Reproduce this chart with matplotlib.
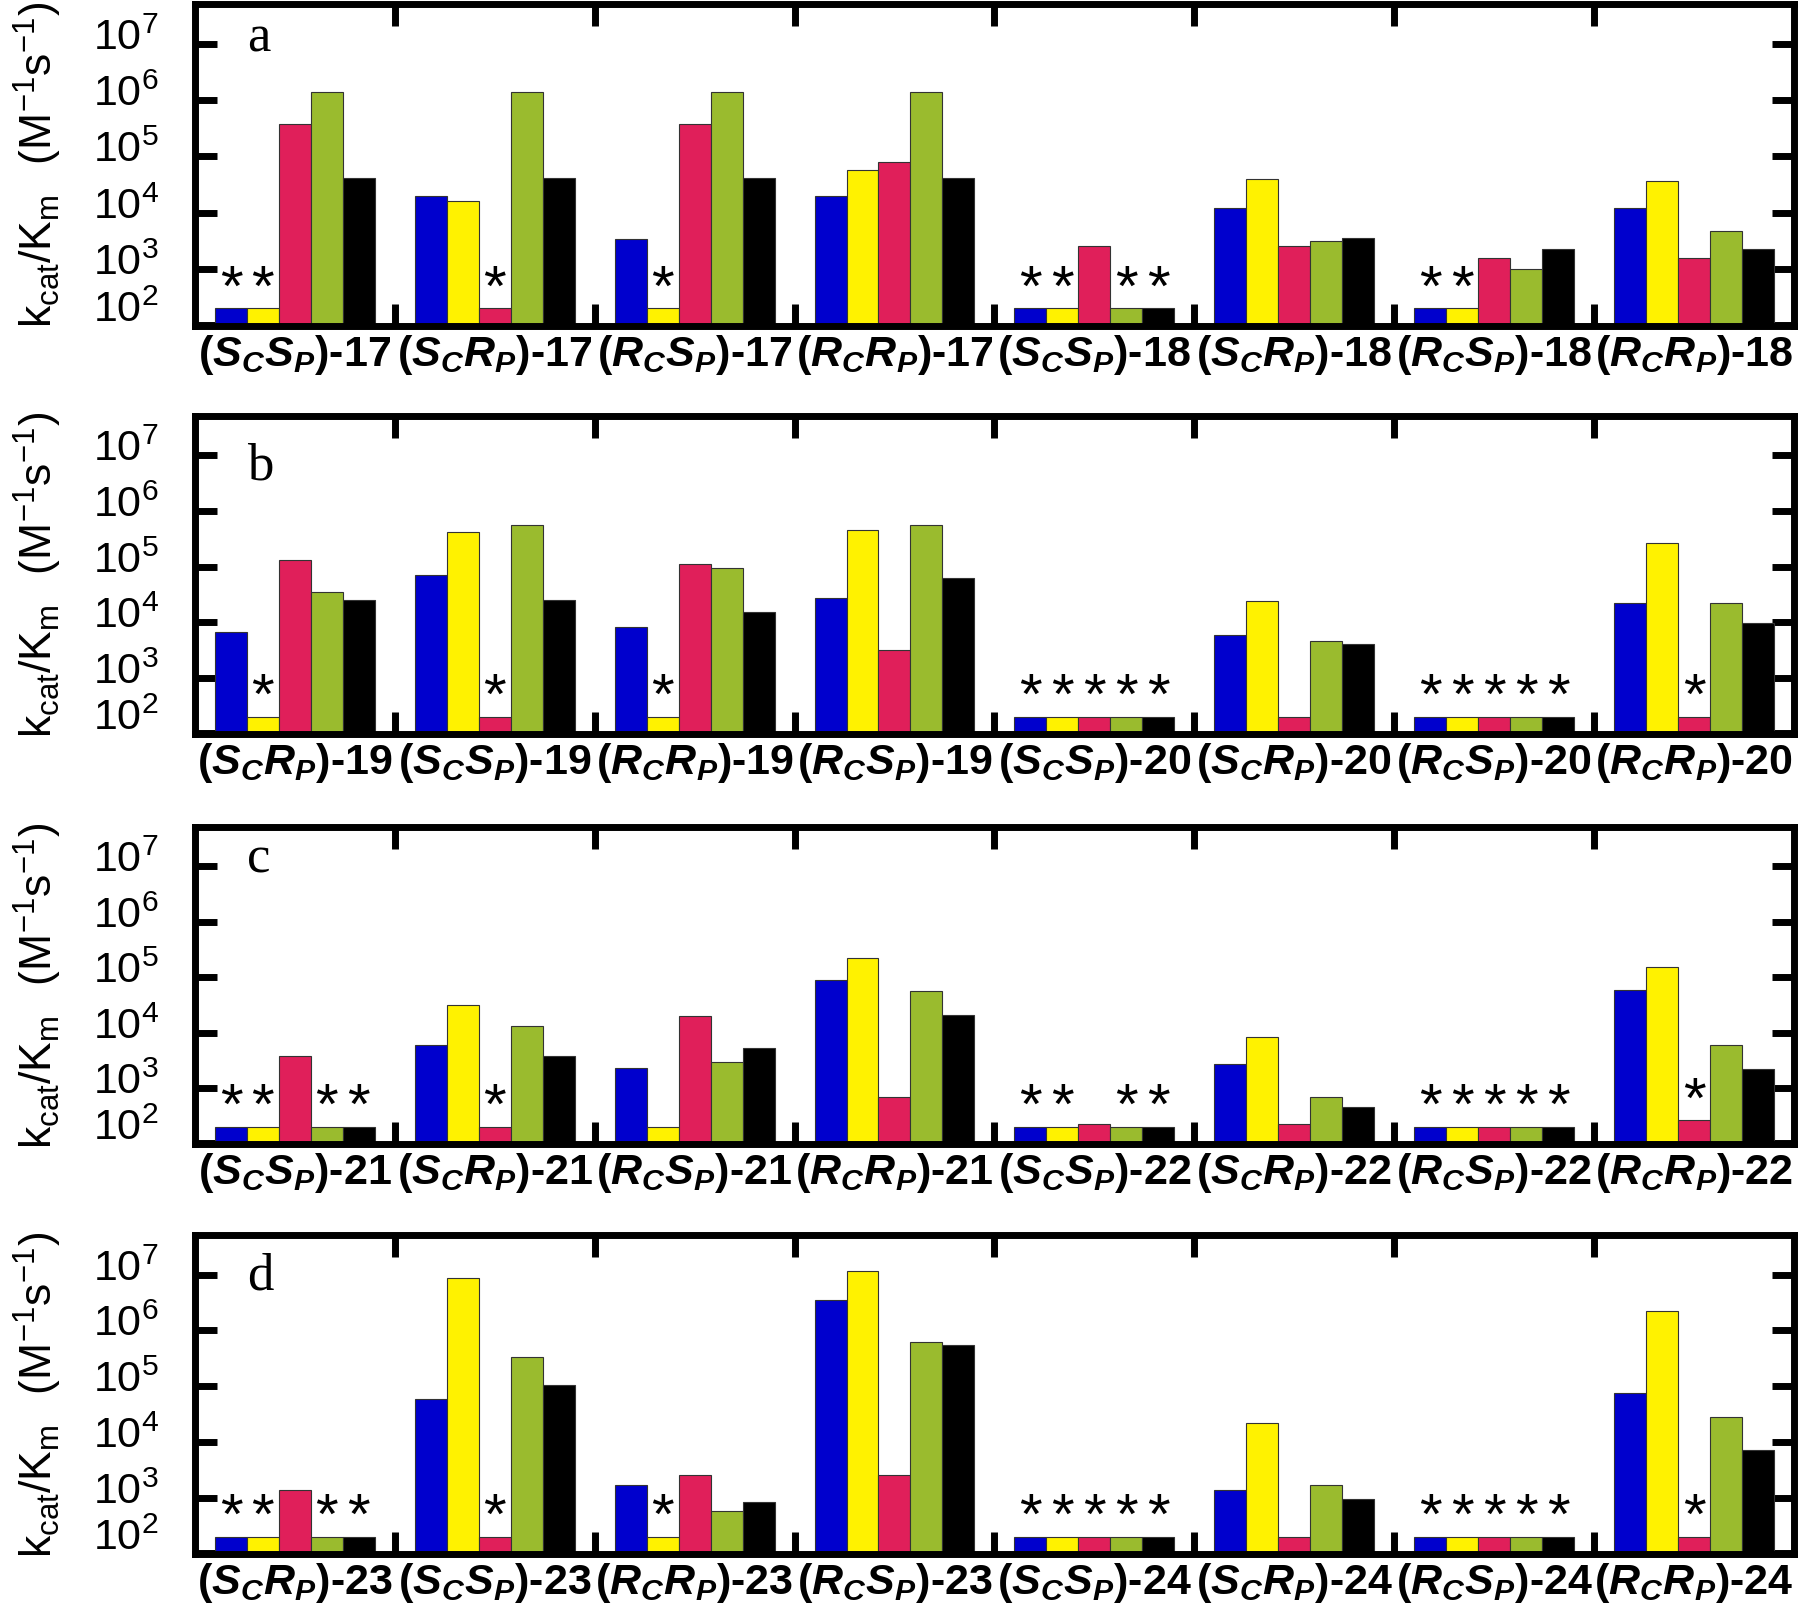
import numpy as np
import matplotlib.pyplot as plt
from matplotlib.transforms import ScaledTranslation
from matplotlib.ticker import NullLocator

# === fonts: mathtext uses the text's own font, bold-italic from the custom set ===
plt.rcParams['mathtext.fontset'] = 'custom'
plt.rcParams['mathtext.default'] = 'regular'
plt.rcParams['mathtext.bfit'] = 'Liberation Sans:italic:bold'
plt.rcParams['mathtext.rm'] = 'Liberation Sans:bold'

SANS = 'Liberation Sans'

# === data (k_cat/K_m, M^-1 s^-1), order: blue, yellow, red, green, black ===
a_config = ['SS', 'SR', 'RS', 'RR', 'SS', 'SR', 'RS', 'RR']
a_num = ['17', '17', '17', '17', '18', '18', '18', '18']
a_blue = [200, 1.95e4, 3.4e3, 1.95e4, 200, 1.23e4, 200, 1.2e4]
a_yellow = [200, 1.6e4, 200, 5.7e4, 200, 4.0e4, 200, 3.7e4]
a_red = [3.8e5, 200, 3.8e5, 7.9e4, 2.6e3, 2.6e3, 1.6e3, 1.6e3]
a_green = [1.4e6, 1.4e6, 1.4e6, 1.4e6, 200, 3.1e3, 1.0e3, 4.7e3]
a_black = [4.1e4, 4.1e4, 4.1e4, 4.1e4, 200, 3.6e3, 2.3e3, 2.3e3]
a_star = ['11000', '00100', '01000', '00000', '11011', '00000', '11000', '00000']

b_config = ['SR', 'SS', 'RR', 'RS', 'SS', 'SR', 'RS', 'RR']
b_num = ['19', '19', '19', '19', '20', '20', '20', '20']
b_blue = [6.8e3, 7.2e4, 8.3e3, 2.7e4, 200, 6.0e3, 200, 2.2e4]
b_yellow = [200, 4.2e5, 200, 4.5e5, 200, 2.4e4, 200, 2.7e5]
b_red = [1.3e5, 200, 1.1e5, 3.1e3, 200, 200, 200, 200]
b_green = [3.5e4, 5.7e5, 9.5e4, 5.7e5, 200, 4.5e3, 200, 2.2e4]
b_black = [2.5e4, 2.5e4, 1.5e4, 6.3e4, 200, 4.0e3, 200, 9.8e3]
b_star = ['01000', '00100', '01000', '00000', '11111', '00000', '11111', '00100']

c_config = ['SS', 'SR', 'RS', 'RR', 'SS', 'SR', 'RS', 'RR']
c_num = ['21', '21', '21', '21', '22', '22', '22', '22']
c_blue = [200, 6.0e3, 2.3e3, 9.0e4, 200, 2.7e3, 200, 6.0e4]
c_yellow = [200, 3.2e4, 200, 2.2e5, 200, 8.4e3, 200, 1.5e5]
c_red = [3.8e3, 200, 2.0e4, 680, 220, 220, 200, 260]
c_green = [200, 1.3e4, 2.9e3, 5.7e4, 200, 700, 200, 5.9e3]
c_black = [200, 3.8e3, 5.2e3, 2.1e4, 200, 455, 200, 2.2e3]
c_star = ['11011', '00100', '00000', '00000', '11011', '00000', '11111', '00100']

d_config = ['SR', 'SS', 'RR', 'RS', 'SS', 'SR', 'RS', 'RR']
d_num = ['23', '23', '23', '23', '24', '24', '24', '24']
d_blue = [200, 5.9e4, 1.7e3, 3.5e6, 200, 1.4e3, 200, 7.4e4]
d_yellow = [200, 8.5e6, 200, 1.15e7, 200, 2.2e4, 200, 2.2e6]
d_red = [1.4e3, 200, 2.6e3, 2.6e3, 200, 200, 200, 200]
d_green = [200, 3.3e5, 580, 6.3e5, 200, 1.7e3, 200, 2.8e4]
d_black = [200, 1.05e5, 850, 5.4e5, 200, 930, 200, 7.2e3]
d_star = ['11011', '00100', '01000', '00000', '11111', '00000', '11111', '00100']

panels = [
    ('a', a_config, a_num, [a_blue, a_yellow, a_red, a_green, a_black], a_star),
    ('b', b_config, b_num, [b_blue, b_yellow, b_red, b_green, b_black], b_star),
    ('c', c_config, c_num, [c_blue, c_yellow, c_red, c_green, c_black], c_star),
    ('d', d_config, d_num, [d_blue, d_yellow, d_red, d_green, d_black], d_star),
]

colors = ['#0000CD', '#FFF200', '#E01F5A', '#9ABB2E', '#000000']
bottoms = [0.7991, 0.5478, 0.2951, 0.0425]
heights = [0.1987, 0.1959, 0.1953, 0.1966]
letter_y = [0.852, 0.80, 0.858, 0.83]
bar_w = 0.16


def xlabel(cfg, num):
    c, p = cfg
    return (r'$(\mathbfit{%s}_{\mathbfit{C}}\mathbfit{%s}_{\mathbfit{P}}\text{)-%s}$'
            % (c, p, num))


fig = plt.figure(figsize=(18, 16.23), dpi=100)
lift = ScaledTranslation(0, 7 / 72, fig.dpi_scale_trans)
lift_low = ScaledTranslation(0, 14 / 72, fig.dpi_scale_trans)

for i, (letter, cfg, num, series, stars) in enumerate(panels):
    ax = fig.add_axes([0.1083, bottoms[i], 0.8883, heights[i]])
    ax.set_yscale('log')
    groups = np.arange(8)
    for k, (vals, col) in enumerate(zip(series, colors)):
        x = groups + 0.1 + bar_w * (k + 0.5)
        ax.bar(x, vals, bar_w, bottom=1, color=col, edgecolor='#333333',
               linewidth=0.8, zorder=2)
        for g in groups:
            if stars[g][k] == '1':
                ax.annotate('*', (x[g], vals[g]), xytext=(0, 2),
                            textcoords='offset points', ha='center',
                            va='baseline', fontsize=42, family=SANS)

    ax.set_xlim(0, 8)
    ax.set_ylim(10 ** 1.99, 10 ** 7.71)
    ax.yaxis.set_minor_locator(NullLocator())

    # y ticks
    yt = [1e2, 1e3, 1e4, 1e5, 1e6, 1e7]
    ax.set_yticks(yt, [r'$10^{%d}$' % int(np.log10(v)) for v in yt],
                  fontsize=31, family=SANS)
    ax.tick_params(axis='y', which='major', direction='in', length=16,
                   width=5, left=True, right=True, pad=26)
    # labels sit a little above their ticks
    for j, lab in enumerate(ax.get_yticklabels()):
        lab.set_transform(lab.get_transform() + (lift_low if j == 0 else lift))

    # x ticks: labels at group centres, marks at group borders
    ax.set_xticks(groups + 0.5, [xlabel(cf, n) for cf, n in zip(cfg, num)],
                  fontsize=31, fontweight='bold', family=SANS)
    ax.set_xticks(np.arange(1, 8), minor=True)
    ax.tick_params(axis='x', which='major', length=0, pad=5)
    ax.tick_params(axis='x', which='minor', direction='in', length=16,
                   width=5, top=True, bottom=True)

    for s in ax.spines.values():
        s.set_linewidth(5)
        s.set_zorder(3)

    ax.set_ylabel(r'$k_{cat}/K_{m}\ \ (M^{-1}s^{-1})$', fontsize=32,
                  family=SANS)
    ax.yaxis.set_label_coords(-0.082, 0.5)

    ax.text(0.0325, letter_y[i], letter, transform=ax.transAxes,
            family='Liberation Serif', fontsize=38, va='baseline')

fig.savefig('out.png', dpi=100)
